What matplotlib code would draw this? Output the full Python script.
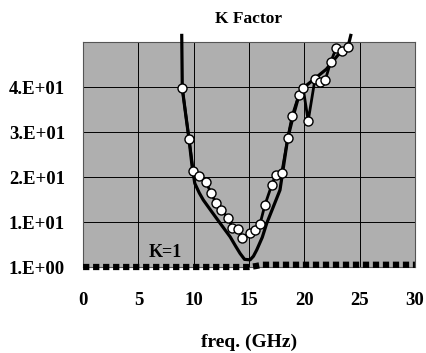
import numpy as np
import matplotlib
matplotlib.use('Agg')
import matplotlib.pyplot as plt

# measured K factor (markers)
meas_freq = [8.97, 9.58, 9.96, 10.5, 11.08, 11.56, 12.0, 12.47, 13.1, 13.5, 14.0, 14.4,
             15.1, 15.5, 16.0, 16.44, 17.05, 17.4, 17.95, 18.5, 18.9, 19.5, 19.9, 20.35,
             20.96, 21.4, 21.9, 22.37, 22.9, 23.4, 23.97]
meas_k = [40.7, 29.4, 22.4, 21.2, 20.0, 17.5, 15.3, 13.7, 12.0, 9.7, 9.4, 7.5,
          8.6, 9.2, 10.6, 14.8, 19.2, 21.4, 21.8, 29.6, 34.6, 39.2, 40.7, 33.5,
          42.7, 42.2, 42.6, 46.5, 49.8, 49.1, 50.0]

# simulated K factor (solid line)
sim_freq = [8.92, 8.97, 9.3, 9.58, 9.85, 10.1, 10.5, 10.87, 11.6, 12.4, 13.3, 13.8,
            14.2, 14.6, 15.1, 15.4, 15.7, 16.2, 16.6, 17.2, 17.8, 18.5, 19.0, 19.5,
            20.0, 21.0, 22.0, 23.0, 24.0, 24.2]
sim_k = [52.5, 40.7, 34.5, 29.4, 23.5, 19.6, 17.5, 15.9, 13.4, 10.7, 7.7, 5.6,
         4.0, 2.7, 2.6, 3.4, 4.8, 7.6, 10.7, 14.4, 18.1, 29.6, 34.6, 39.0,
         41.0, 43.0, 45.0, 48.0, 50.5, 52.5]

# K = 1 reference line
k1_freq = [0, 15.0, 15.6, 16.2, 30]
k1_val = [1.0, 1.0, 1.2, 1.5, 1.5]

xticks = [0, 5, 10, 15, 20, 25, 30]
yticks = [1, 11, 21, 31, 41]
ylabels = ['1.E+00', '1.E+01', '2.E+01', '3.E+01', '4.E+01']

plt.rcParams['font.family'] = ['Liberation Serif', 'DejaVu Serif']
plt.rcParams['font.weight'] = 'bold'

fig = plt.figure(figsize=(4.26, 3.53), dpi=100)
ax = fig.add_axes([0.195, 0.2436, 0.779, 0.637])
ax.set_facecolor('#afafaf')

ax.plot(k1_freq, k1_val, color='black', lw=4.5, dashes=(1, 0.6),
        solid_capstyle='butt', dash_capstyle='butt', clip_on=False, zorder=3)
ax.plot(sim_freq, sim_k, color='black', lw=2.3, clip_on=False, zorder=4)
ax.plot(meas_freq, meas_k, color='black', lw=2.0, marker='o', ms=6.5,
        mfc='white', mec='black', mew=1.0, clip_on=False, zorder=5)

ax.text(7.4, 4.3, 'K=1', fontsize=13, fontweight='bold', ha='center', va='center')

ax.set_xlim(0, 30)
ax.set_ylim(1, 51)
ax.set_xticks(xticks)
ax.set_yticks(yticks)
ax.set_yticklabels(ylabels)
ax.grid(True, color='black', lw=0.7)
ax.set_axisbelow(True)
ax.tick_params(axis='both', length=0, labelsize=13.5)
ax.tick_params(axis='y', pad=13)
ax.tick_params(axis='x', pad=18)
for s in ax.spines.values():
    s.set_color('#555555')
    s.set_linewidth(0.8)

ax.set_title('K Factor', fontsize=12.5, fontweight='bold', pad=14)
ax.set_xlabel('freq. (GHz)', fontsize=14, fontweight='bold', labelpad=18)

fig.savefig('out.png', dpi=100)
